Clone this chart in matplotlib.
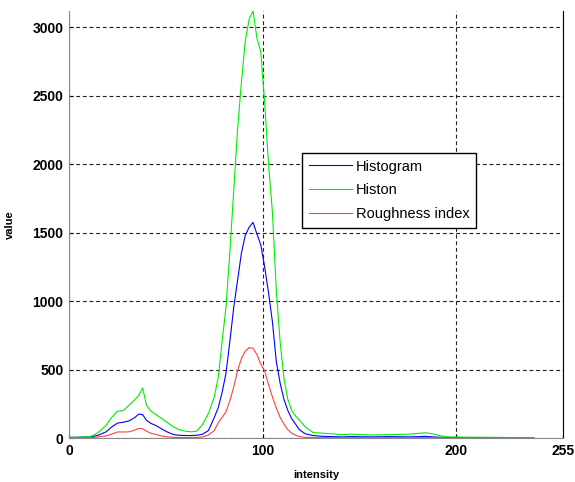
import matplotlib
matplotlib.use("Agg")
import matplotlib.pyplot as plt

# intensity grid
intensity = [0, 4, 9, 12, 15, 19, 22, 25, 28, 31, 34, 36, 38, 40, 42, 45, 48, 51, 54, 57,
             60, 63, 66, 69, 72, 75, 77, 79, 81, 83, 85, 87, 89, 91, 93, 95, 97, 99, 101, 103,
             105, 107, 109, 111, 113, 115, 117, 119, 122, 126, 131, 136, 141, 146, 156, 166,
             176, 181, 184, 188, 192, 196, 205, 215, 225, 235, 240]

histogram = [5, 5, 8, 10, 20, 44, 80, 109, 115, 125, 150, 175, 170, 130, 109, 90, 65, 42, 25, 20,
             18, 18, 20, 28, 55, 150, 220, 330, 470, 700, 950, 1150, 1350, 1480, 1540, 1575, 1490, 1410, 1250, 1060,
             850, 560, 400, 280, 200, 140, 100, 60, 30, 18, 12, 10, 8, 10, 8, 10,
             8, 10, 12, 8, 5, 4, 3, 2, 2, 1, 0]

histon = [5, 5, 8, 15, 40, 90, 150, 195, 200, 240, 280, 310, 365, 240, 200, 170, 140, 110, 80, 60,
          50, 45, 50, 100, 180, 300, 440, 700, 950, 1350, 1800, 2250, 2600, 2900, 3060, 3120, 2920, 2820, 2450, 2000,
          1650, 1080, 700, 430, 280, 200, 160, 130, 80, 40, 35, 30, 25, 28, 22, 25,
          28, 35, 38, 30, 15, 8, 6, 5, 4, 2, 0]

roughness = [0, 0, 2, 3, 8, 15, 28, 44, 44, 45, 58, 70, 68, 50, 36, 25, 14, 8, 5, 4,
             3, 3, 4, 8, 22, 55, 110, 150, 190, 270, 370, 490, 580, 635, 660, 655, 610, 540, 490, 390,
             300, 220, 150, 100, 60, 35, 20, 10, 5, 3, 2, 2, 2, 2, 2, 2,
             2, 2, 2, 2, 2, 2, 2, 2, 2, 1, 0]

x_ticks = [0, 100, 200, 255]
y_ticks = [0, 500, 1000, 1500, 2000, 2500, 3000]

plt.rcParams['font.family'] = ['Liberation Sans', 'DejaVu Sans']

fig = plt.figure(figsize=(5.75, 4.82), dpi=100)
ax = fig.add_axes([69 / 575, 1 - 438 / 482, 494 / 575, 427.3 / 482])

ax.plot(intensity, histogram, color='#0000ff', lw=0.8, label='Histogram')
ax.plot(intensity, histon, color='#00ee00', lw=0.8, label='Histon')
ax.plot(intensity, roughness, color='#ff4040', lw=0.8, label='Roughness index')

ax.set_xlim(0, 255)
ax.set_ylim(0, 3121)
ax.set_xticks(x_ticks)
ax.set_yticks(y_ticks)
ax.tick_params(direction='in', length=3, labelsize=10, pad=4)
for lab in ax.get_xticklabels() + ax.get_yticklabels():
    lab.set_fontweight('bold')

ax.grid(True, color='#222222', lw=0.8, linestyle=(0, (3.5, 2.5)))
ax.set_axisbelow(True)

ax.spines['top'].set_visible(False)
ax.spines['left'].set_color('#888888')
ax.spines['bottom'].set_color('#888888')
ax.spines['right'].set_color('black')

ax.set_xlabel('intensity', fontsize=8, fontweight='bold')
ax.set_ylabel('value', fontsize=8, fontweight='bold')
ax.xaxis.set_label_coords(0.5, -0.075)
ax.yaxis.set_label_coords(-0.109, 0.5)

leg = ax.legend(loc='upper left', bbox_to_anchor=(0.472, 0.667), fontsize=10.5,
                handlelength=3.0, handletextpad=0.25, fancybox=False, framealpha=1,
                borderaxespad=0, labelspacing=0.68, borderpad=0.45)
leg.get_frame().set_edgecolor('black')
leg.get_frame().set_linewidth(1.0)

fig.savefig('out.png', dpi=100)
